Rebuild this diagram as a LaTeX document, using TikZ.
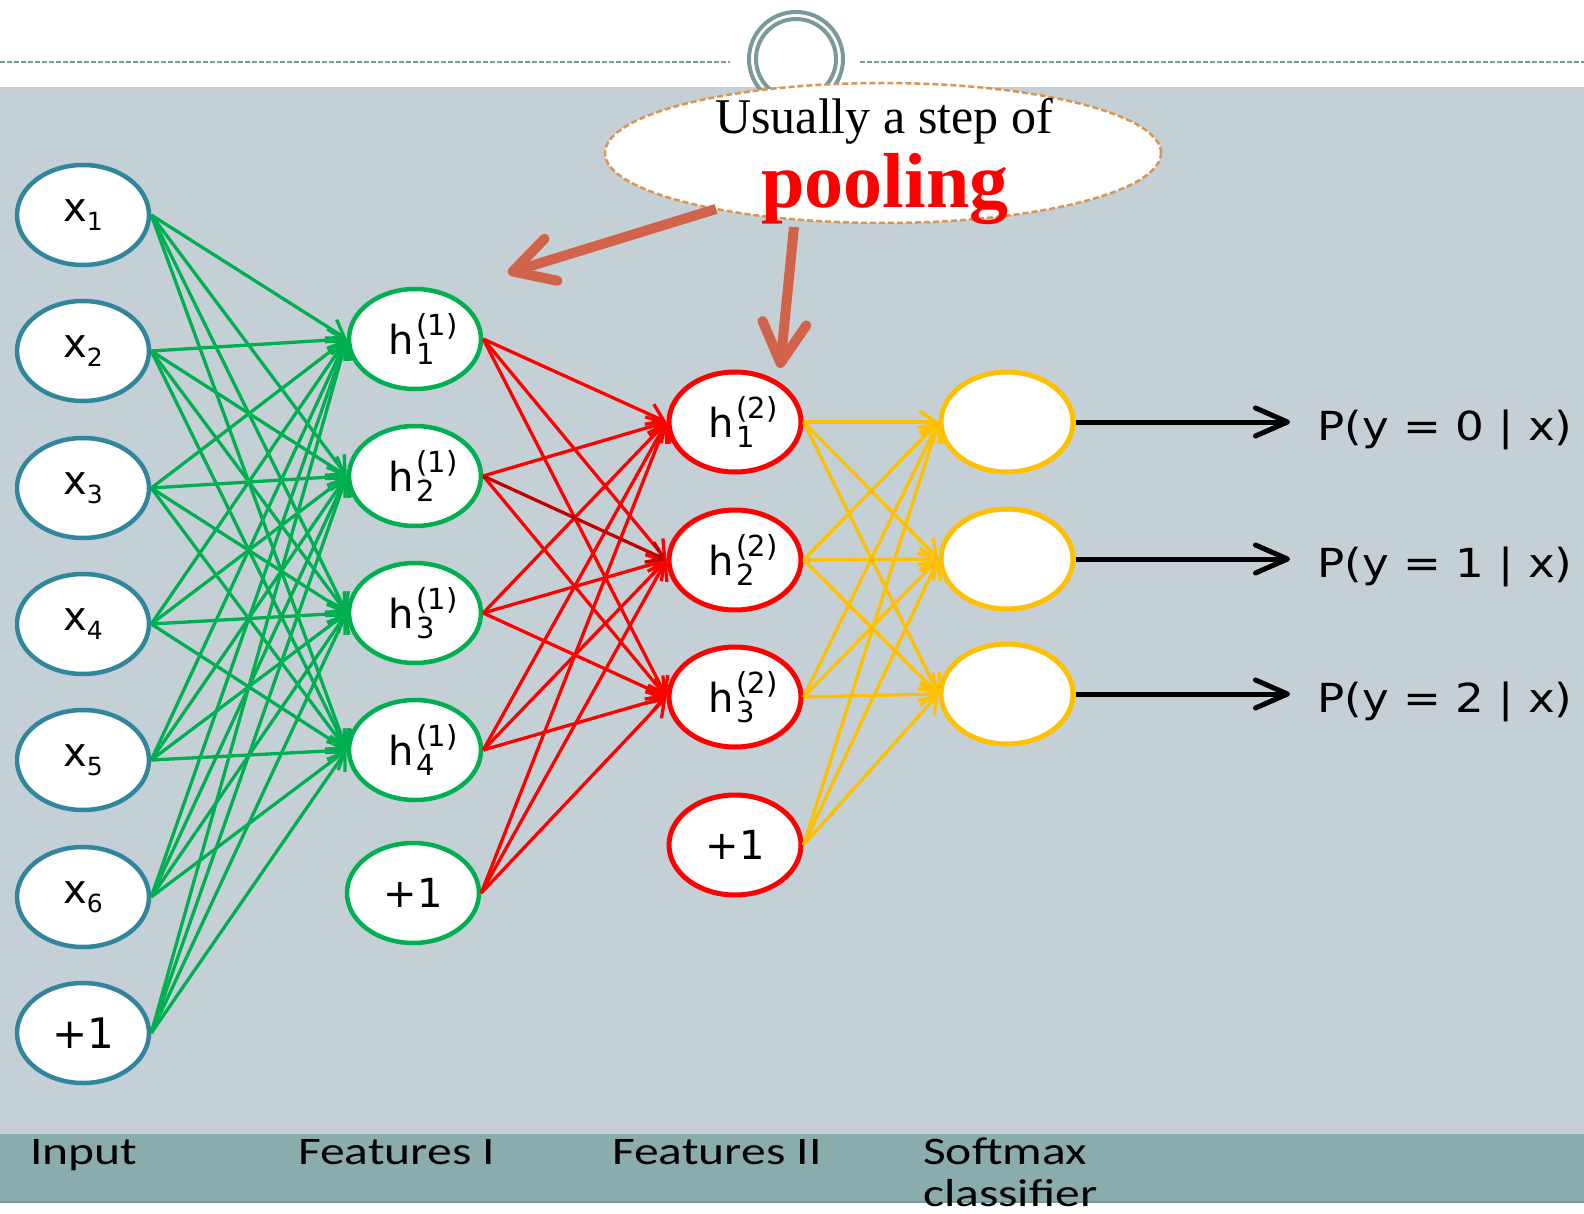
\documentclass[tikz,border=0pt]{standalone}
\usepackage{fontspec}
\setmainfont{DejaVu Sans}
\newfontfamily\serifx{Liberation Serif}
\newfontfamily\carl{Carlito}
\usetikzlibrary{shapes.geometric,arrows.meta}
\definecolor{bggray}{RGB}{197,208,214}
\definecolor{bandc}{RGB}{138,172,173}
\definecolor{ringc}{RGB}{122,154,154}
\definecolor{inpblue}{RGB}{49,133,156}
\definecolor{fgreen}{RGB}{0,176,80}
\definecolor{fred}{RGB}{255,0,0}
\definecolor{fdark}{RGB}{192,0,0}
\definecolor{fyellow}{RGB}{255,192,0}
\definecolor{callc}{RGB}{217,150,80}
\definecolor{pointc}{RGB}{209,99,74}
\newcommand\nfont{\fontsize{40}{40}\selectfont}
\newcommand\smfont{\fontsize{29}{29}\selectfont}
\newcommand\xl[1]{x\raisebox{-9pt}{\fontsize{25}{25}\selectfont #1}}
\newcommand\hl[2]{\kern16pt h\kern3pt\rlap{\raisebox{19pt}{\smfont(#1)}}\rlap{\raisebox{-10pt}{\smfont #2}}\phantom{\smfont(#1)}}
\newcommand\plab[1]{\scalebox{1.13}[1]{P(y = #1 | x)}}
\newcommand\blab[1]{\scalebox{1.27}[1]{#1}}
\begin{document}
\begin{tikzpicture}[x=1pt,y=-1pt,
  neuron/.style={ellipse, draw, fill=white, minimum width=132pt, minimum height=100pt, inner sep=0pt, line width=4.5pt, font=\nfont},
  inp/.style={neuron, draw=inpblue},
  fone/.style={neuron, draw=fgreen},
  ftwo/.style={neuron, draw=fred, line width=5pt},
  soft/.style={neuron, draw=fyellow, line width=5pt},
  tip/.style={-{Straight Barb[length=16pt,width=22pt]}},
  gedge/.style={draw=fgreen, line width=3.3pt, tip},
  redge/.style={draw=fred, line width=3.3pt, tip},
  dedge/.style={draw=fdark, line width=3.3pt, tip},
  yedge/.style={draw=fyellow, line width=3.3pt, tip},
  outarrow/.style={draw=black, line width=5pt, -{Straight Barb[length=32pt,width=28pt,round]}},
  pointer/.style={draw=pointc, line width=10pt, -{Straight Barb[length=40pt,width=44pt,round]}},
  topline/.style={draw=ringc, line width=2pt, dash pattern=on 5pt off 2pt},
  callout/.style={ellipse, draw=callc, fill=white, line width=2.5pt, dash pattern=on 6pt off 3pt, minimum width=556pt, minimum height=140pt, inner sep=0pt},
  plabel/.style={anchor=base west, inner sep=0pt, font=\fontsize{40}{40}\selectfont},
  blabel/.style={anchor=base west, inner sep=0pt, font=\carl\fontsize{39}{39}\selectfont}
]
\useasboundingbox (0,0) rectangle (1584,1214);
\fill[white] (0,0) rectangle (1584,1214);
\fill[bggray] (0,87) rectangle (1584,1134);
\fill[bandc] (0,1134) rectangle (1584,1202);
\draw[ringc, line width=1.5pt] (0,1202) -- (1584,1202);
\draw[topline] (0,62) -- (730,62) (860,62) -- (1584,62);
\draw[ringc, line width=4pt] (796,59) circle[radius=47pt] (796,59) circle[radius=40pt];

% input layer
\foreach \i/\y in {1/215,2/351,3/488,4/624,5/760,6/897}
  \node[inp] (x\i) at (83,\y) {\xl{\i}};
\node[inp, font=\fontsize{42}{42}\selectfont] (xb) at (83,1033) {+1};

% features I
\foreach \i/\y in {1/339,2/476,3/613,4/750}
  \node[fone] (h\i) at (415,\y) {\hl{1}{\i}};
\node[fone] (hb) at (413,893) {+1};

% features II
\foreach \i/\y in {1/422,2/560,3/697}
  \node[ftwo] (g\i) at (735,\y) {\hl{2}{\i}};
\node[ftwo] (gb) at (735,845) {+1};

% softmax
\foreach \i/\y in {1/422,2/559,3/694}
  \node[soft] (s\i) at (1007,\y) {};

% edges
\foreach \s in {x1,x2,x3,x4,x5,x6,xb}
  \foreach \t in {h1,h2,h3,h4}
    \draw[gedge] (\s.east) -- (\t.west);
\foreach \s/\t in {h1/g1,h1/g2,h1/g3,h2/g1,h2/g3,h3/g1,h3/g2,h3/g3,h4/g1,h4/g2,h4/g3,hb/g1,hb/g2,hb/g3}
  \draw[redge] (\s.east) -- (\t.west);
\draw[dedge] (h2.east) -- (g2.west);
\foreach \s in {g1,g2,g3,gb}
  \foreach \t in {s1,s2,s3}
    \draw[yedge] (\s.east) -- (\t.west);

% outputs
\node[plabel] (p1) at (1317,440) {\plab{0}};
\node[plabel] (p2) at (1317,577) {\plab{1}};
\node[plabel] (p3) at (1317,712) {\plab{2}};
\draw[outarrow] (s1.east) -- ([xshift=-27pt]s1.east -| p1.west);
\draw[outarrow] (s2.east) -- ([xshift=-27pt]s2.east -| p2.west);
\draw[outarrow] (s3.east) -- ([xshift=-27pt]s3.east -| p3.west);

% bottom labels
\node[blabel] (l1) at (30,1164) {\blab{Input}};
\node[blabel] (l2) at (298,1164) {\blab{Features I}};
\node[blabel] (l3) at (612,1164) {\blab{Features II}};
\node[blabel] (l4) at (923,1164) {\blab{Softmax}};
\node[blabel] (l5) at (923,1206) {\blab{classifier}};

% callout
\node[callout] (call) at (883,153) {};
\node[anchor=base, inner sep=0pt, font=\serifx\fontsize{50}{50}\selectfont] (ct1) at (884,134) {Usually a step of};
\node[anchor=base, inner sep=0pt, text=fred, font=\serifx\bfseries\fontsize{78}{78}\selectfont] (ct2) at (885,208) {pooling};
\coordinate (a1s) at (716,209);
\coordinate (a1e) at (508,273);
\coordinate (a2s) at (794,227);
\coordinate (a2e) at (780,368);
\draw[pointer] (a1s) -- (a1e);
\draw[pointer] (a2s) -- (a2e);
\end{tikzpicture}
\end{document}
